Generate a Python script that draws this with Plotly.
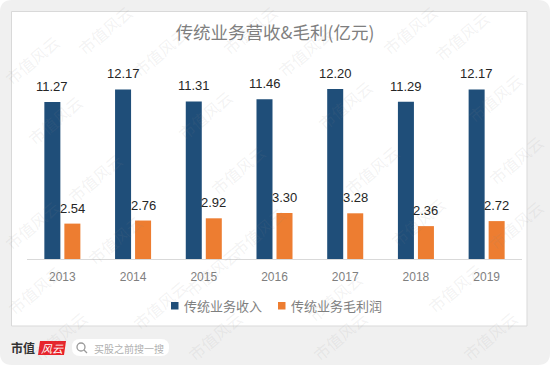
import plotly.graph_objects as go

years = ["2013", "2014", "2015", "2016", "2017", "2018", "2019"]
revenue = [11.27, 12.17, 11.31, 11.46, 12.20, 11.29, 12.17]
profit = [2.54, 2.76, 2.92, 3.30, 3.28, 2.36, 2.72]
series_names = ["传统业务收入", "传统业务毛利润"]
title_text = "传统业务营收&毛利(亿元)"
wm_text = "市值风云"
wm_spots = [(32, 60), (160, 52), (305, 52), (462, 36), (105, 30), (250, 30), (410, 30),
            (55, 120), (205, 115), (345, 105), (495, 98),
            (95, 178), (238, 170), (372, 170), (516, 160),
            (32, 225), (115, 240), (258, 232), (418, 222), (516, 225),
            (35, 290), (160, 305), (212, 272), (335, 297), (455, 288),
            (60, 336), (215, 336), (340, 336), (490, 336)]

W, H = 550, 365
L, R, T, B = 27, 28, 50, 106
PW, PH = W - L - R, H - T - B
FONT = "Noto Sans CJK SC, sans-serif"
NAVY, ORANGE = "#1f4e79", "#ed7d31"


def px(x):
    return (x - L) / PW


def py(y):
    return 1 - (y - T) / PH


def rounded(x0, y0, x1, y1, r):
    a, b, c, d = px(x0), px(x1), py(y0), py(y1)
    rx, ry = r / PW, r / PH
    return (f"M{a+rx},{c} L{b-rx},{c} Q{b},{c} {b},{c-ry} L{b},{d+ry} Q{b},{d} {b-rx},{d} "
            f"L{a+rx},{d} Q{a},{d} {a},{d+ry} L{a},{c-ry} Q{a},{c} {a+rx},{c} Z")


def page_text(x, y, text, size, color, xanchor="center", angle=0):
    return dict(xref="paper", yref="paper", x=px(x), y=py(y), text=text, showarrow=False,
                xanchor=xanchor, yanchor="middle", textangle=angle,
                font=dict(family=FONT, size=size, color=color))


fig = go.Figure()
for name, vals, col in zip(series_names, [revenue, profit], [NAVY, ORANGE]):
    fig.add_bar(x=years, y=vals, name=name, marker=dict(color=col, line=dict(width=0)))

shapes = [
    dict(type="path", xref="paper", yref="paper", path=rounded(0, 0, 550, 365, 12),
         fillcolor="#f0f0f0", line=dict(width=0), layer="below"),
    dict(type="rect", xref="paper", yref="paper", x0=px(11.5), x1=px(527), y0=py(326), y1=py(11.5),
         fillcolor="#ffffff", line=dict(color="#d9d9d9", width=1), layer="below"),
    dict(type="path", xref="paper", yref="paper", path=rounded(72, 339, 169, 356, 8),
         fillcolor="#ffffff", line=dict(width=0), layer="below"),
    dict(type="circle", xref="paper", yref="paper", x0=px(77), x1=px(85), y0=py(351), y1=py(343),
         line=dict(color="#9a9a9a", width=1.3)),
    dict(type="line", xref="paper", yref="paper", x0=px(84), x1=px(87), y0=py(350), y1=py(353),
         line=dict(color="#9a9a9a", width=1.3)),
    dict(type="path", xref="paper", yref="paper",
         path=f"M{px(40)},{py(341)} L{px(66)},{py(341)} L{px(64)},{py(355)} L{px(38)},{py(355)} Z",
         fillcolor="#e8232a", line=dict(width=0)),
]

ann = []
for sx, sy in wm_spots:
    ann.append(page_text(sx, sy, wm_text, 16, "rgba(140,140,140,0.11)", angle=-40))
for vals, shift in [(revenue, -10), (profit, 10)]:
    for i, v in enumerate(vals):
        ann.append(dict(x=i, y=v, xshift=shift, yshift=6, yanchor="bottom", text=f"{v:.2f}", showarrow=False,
                        font=dict(family="Liberation Sans, sans-serif", size=13, color="#262626")))

for name, col, swatch_x, label_x in zip(series_names, [NAVY, ORANGE], [171, 278], [182, 289]):
    shapes.append(dict(type="rect", xref="paper", yref="paper", x0=px(swatch_x), x1=px(swatch_x + 7.5),
                       y0=py(309.5), y1=py(302), fillcolor=col, line=dict(width=0)))
    ann.append(page_text(label_x, 305, name, 13, "#7f7f7f", xanchor="left"))

ann += [
    page_text(23, 347, "<b>市值</b>", 12, "#333333"),
    page_text(52, 348, "<i>风云</i>", 11, "#ffffff"),
    page_text(92, 348, "买股之前搜一搜", 10, "#b0b0b0", xanchor="left"),
]

fig.update_layout(
    width=W, height=H, autosize=False,
    margin=dict(l=L, r=R, t=T, b=B, pad=0),
    paper_bgcolor="#ffffff", plot_bgcolor="rgba(0,0,0,0)",
    barmode="group", bargap=0.434, bargroupgap=0.2,
    title=dict(text=title_text, x=0.5, xanchor="center", y=1 - 33 / H, yanchor="middle",
               font=dict(family=FONT, size=17.5, color="#7f7f7f")),
    xaxis=dict(type="category", range=[-0.5, 6.5], showline=True, linecolor="#d9d9d9", linewidth=1, ticks="",
               showgrid=False, ticklabelstandoff=7,
               tickfont=dict(family="Liberation Sans, sans-serif", size=12, color="#7f7f7f")),
    yaxis=dict(range=[0, 15], visible=False, showgrid=False),
    shapes=shapes, annotations=ann, showlegend=False,
)

fig.write_html("out.html", config=dict(displayModeBar=False),
               post_script="document.body.style.margin='0';document.body.style.overflow='hidden';")
